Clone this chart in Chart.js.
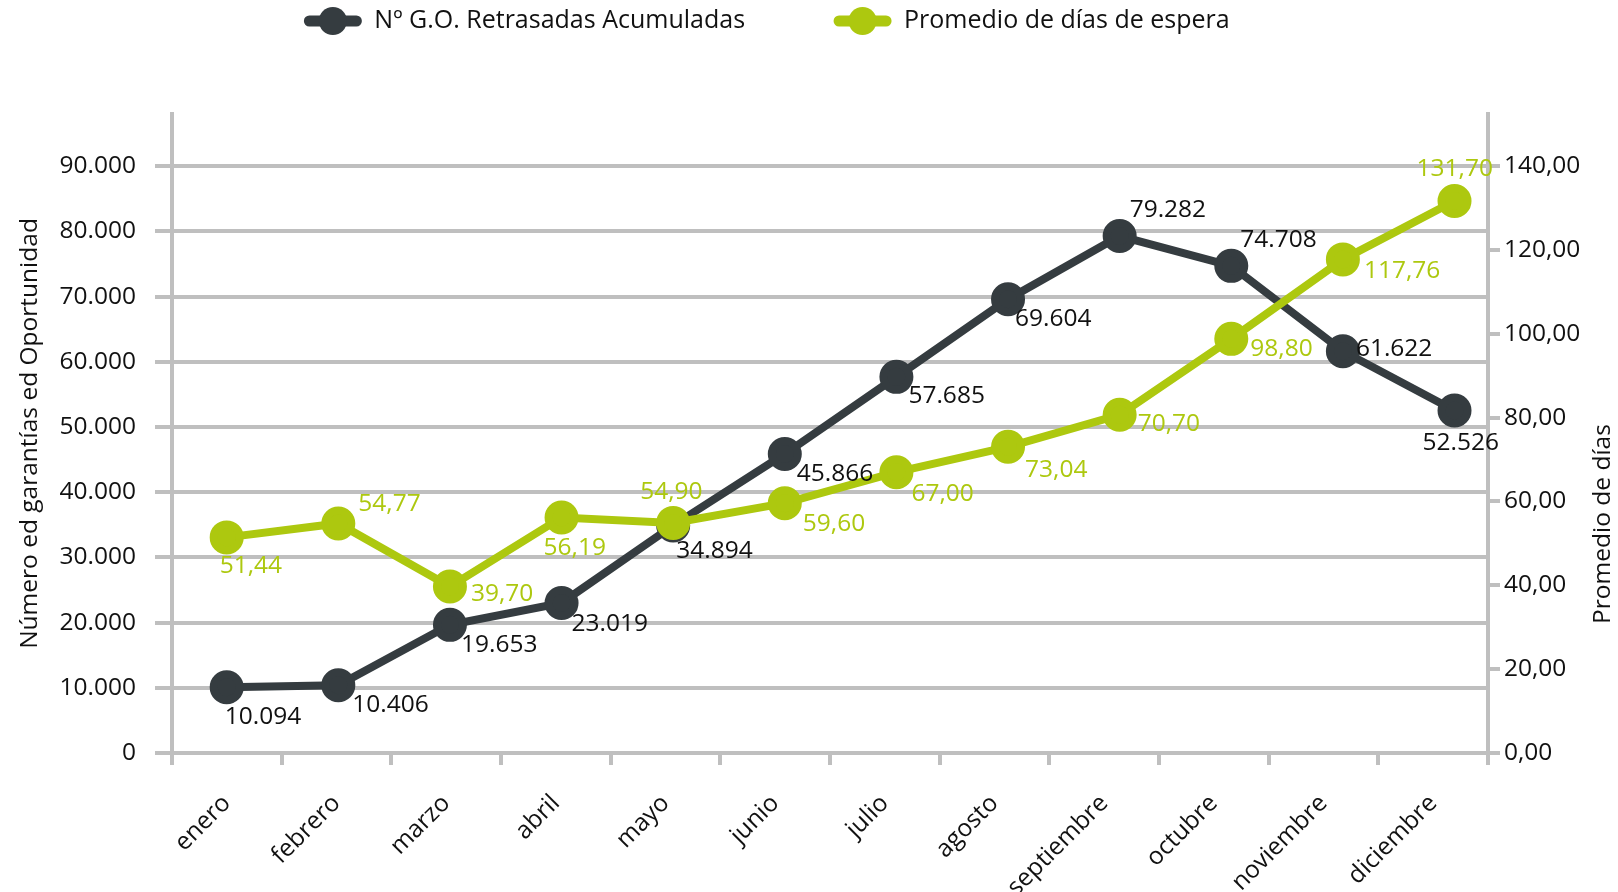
<!DOCTYPE html>
<html lang="es">
<head>
<meta charset="UTF-8">
<title>G.O. Retrasadas Acumuladas</title>
<script src="https://cdn.jsdelivr.net/npm/chart.js"></script>
<style>
  html, body { margin: 0; padding: 0; background: #fff; }
  #wrap { width: 1618px; height: 892px; }
</style>
</head>
<body>
<div id="wrap"><canvas id="chart"></canvas></div>
<script>
// datos
const months = ['enero', 'febrero', 'marzo', 'abril', 'mayo', 'junio', 'julio',
                'agosto', 'septiembre', 'octubre', 'noviembre', 'diciembre'];
const delayed = [10094, 10406, 19653, 23019, 34894, 45866, 57685, 69604, 79282, 74708, 61622, 52526];
const waitDays = [51.44, 54.77, 39.70, 56.19, 54.90, 59.60, 67.00, 73.04, 80.70, 98.80, 117.76, 131.70];
// etiquetas tal como aparecen (septiembre dice 70,70)
const waitDayLabels = ['51,44', '54,77', '39,70', '56,19', '54,90', '59,60', '67,00',
                       '73,04', '70,70', '98,80', '117,76', '131,70'];
const leftTicks = [0, 10000, 20000, 30000, 40000, 50000, 60000, 70000, 80000, 90000];
const rightTicks = [0, 20, 40, 60, 80, 100, 120, 140];

const GRID = '#bfbfbf';
const DARK = '#353c40';
const GREEN = '#adc80f';
const TEXT = '#111';
const FONT = '"Open Sans", sans-serif';
const FS = 24.5;

// desplazamiento de cada etiqueta respecto a su punto
const darkOffsets = [[-2, 30], [14, 20], [11, 20], [10, 21], [3, 26], [12, 20],
                     [12, 19], [7, 20], [10, -26], [9, -26], [13, -2], [-32, 33]];
const greenOffsets = [[-7, 29], [20, -19], [21, 7], [-18, 31], [-33, -31], [18, 21],
                      [15, 22], [17, 23], [18, 9], [19, 10], [21, 12], [-38, -32]];

const thousands = v => String(Math.round(v)).replace(/\B(?=(\d{3})+(?!\d))/g, '.');
const decimals = v => v.toFixed(2).replace('.', ',');

const extras = {
  id: 'extras',
  afterDatasetsDraw(chart) {
    const ctx = chart.ctx;
    ctx.save();
    ctx.font = FS + 'px ' + FONT;
    ctx.textAlign = 'left';
    ctx.textBaseline = 'middle';
    chart.data.datasets.forEach((ds, i) => {
      chart.getDatasetMeta(i).data.forEach((pt, j) => {
        const [dx, dy] = ds.labelOffsets[j];
        ctx.fillStyle = ds.labelColor;
        ctx.fillText(ds.labelText[j], pt.x + dx, pt.y + dy);
      });
    });
    ctx.restore();
  },
  afterDraw(chart) {
    const ctx = chart.ctx;
    ctx.save();
    // leyenda: linea + circulo
    ctx.font = '25px ' + FONT;
    ctx.textBaseline = 'middle';
    ctx.textAlign = 'left';
    const markW = 57, gap = 13, itemGap = 89, y = 21;
    const items = chart.data.datasets;
    const widths = items.map(ds => markW + gap + ctx.measureText(ds.label).width);
    const total = widths.reduce((a, b) => a + b, 0) + itemGap * (items.length - 1);
    let x = 767 - total / 2;
    items.forEach((ds, i) => {
      ctx.strokeStyle = ds.borderColor;
      ctx.lineWidth = 11;
      ctx.lineCap = 'round';
      ctx.beginPath();
      ctx.moveTo(x + 5, y);
      ctx.lineTo(x + markW - 5, y);
      ctx.stroke();
      ctx.fillStyle = ds.borderColor;
      ctx.beginPath();
      ctx.arc(x + markW / 2, y, 14, 0, Math.PI * 2);
      ctx.fill();
      ctx.fillStyle = TEXT;
      ctx.fillText(ds.label, x + markW + gap, y);
      x += widths[i] + itemGap;
    });
    // titulo del eje derecho, leido de abajo hacia arriba
    ctx.font = FS + 'px ' + FONT;
    ctx.translate(1603, 524);
    ctx.rotate(-Math.PI / 2);
    ctx.textAlign = 'center';
    ctx.fillText('Promedio de días', 0, 0);
    ctx.restore();
  }
};

new Chart(document.getElementById('chart'), {
  type: 'line',
  data: {
    labels: months,
    datasets: [{
      label: 'Nº G.O. Retrasadas Acumuladas',
      data: delayed.map((v, i) => ({ x: i, y: v })),
      xAxisID: 'xp',
      yAxisID: 'y',
      borderColor: DARK,
      backgroundColor: DARK,
      borderWidth: 8,
      pointRadius: 13,
      pointHoverRadius: 13,
      order: 1,
      labelColor: TEXT,
      labelText: delayed.map(thousands),
      labelOffsets: darkOffsets
    }, {
      label: 'Promedio de días de espera',
      data: waitDays.map((v, i) => ({ x: i, y: v })),
      xAxisID: 'xp',
      yAxisID: 'y1',
      borderColor: GREEN,
      backgroundColor: GREEN,
      borderWidth: 8,
      pointRadius: 13,
      pointHoverRadius: 13,
      order: 0,
      labelColor: GREEN,
      labelText: waitDayLabels,
      labelOffsets: greenOffsets
    }]
  },
  options: {
    responsive: true,
    maintainAspectRatio: false,
    animation: false,
    layout: { padding: { top: 114, left: 0, right: 0, bottom: 0 } },
    plugins: {
      legend: { display: false },
      tooltip: { enabled: false }
    },
    scales: {
      x: {
        offset: true,
        grid: { offset: true, drawOnChartArea: false, color: GRID, lineWidth: 4, tickLength: 12 },
        border: { color: GRID, width: 4 },
        ticks: {
          color: TEXT, font: { family: FONT, size: FS },
          maxRotation: 45, minRotation: 45, autoSkip: false, padding: 24
        },
        afterFit(scale) { scale.height = 892 - 753; }
      },
      // eje oculto para los puntos: en el original se separan algo mas que las categorias
      xp: {
        type: 'linear',
        display: false,
        min: -0.49,
        max: 11.3
      },
      y: {
        position: 'left',
        min: 0,
        max: 98000,
        grid: { color: GRID, lineWidth: 4, tickLength: 17 },
        border: { color: GRID, width: 4 },
        ticks: {
          color: TEXT, font: { family: FONT, size: FS }, padding: 19,
          callback: v => thousands(v)
        },
        afterBuildTicks(scale) { scale.ticks = leftTicks.map(v => ({ value: v })); },
        title: {
          display: true, text: 'Número ed garantías ed Oportunidad',
          color: TEXT, font: { family: FONT, size: FS }, padding: { top: 15, bottom: 0 }
        },
        afterFit(scale) { scale.width = 172; }
      },
      y1: {
        position: 'right',
        min: 0,
        max: 98000 / 90000 * 140,
        grid: { drawOnChartArea: false, color: GRID, lineWidth: 4, tickLength: 12 },
        border: { color: GRID, width: 4 },
        ticks: {
          color: TEXT, font: { family: FONT, size: FS }, padding: 4,
          callback: v => decimals(v)
        },
        afterBuildTicks(scale) { scale.ticks = rightTicks.map(v => ({ value: v })); },
        afterFit(scale) { scale.width = 1618 - 1488; }
      }
    }
  },
  plugins: [extras]
});
</script>
</body>
</html>
